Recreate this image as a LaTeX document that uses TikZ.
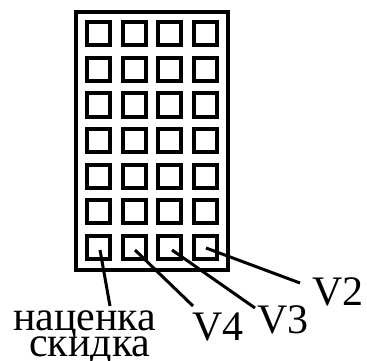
\documentclass[tikz,border=0pt]{standalone}
\usepackage{fontspec}
\setmainfont{Liberation Serif}
\begin{document}
\begin{tikzpicture}[x=1pt,y=-1pt,
  cell/.style={draw,line width=4pt,minimum size=23pt,inner sep=0pt},
  frame/.style={draw,line width=4pt},
  leader/.style={draw,line width=3pt},
  lbl/.style={inner sep=0pt,anchor=base west,font=\fontsize{42}{42}\selectfont}]
\useasboundingbox (0,0) rectangle (367,361);
\draw[frame] (76,12) rectangle (228,270);
\foreach \r in {1,...,7}{
  \foreach \c in {1,...,4}{
    \node[cell] (s\r\c) at ({98.5+35.5*(\c-1)},{34+35.5*(\r-1)}) {};
  }
}
\node[lbl] (nac) at (13,330) {наценка};
\node[lbl] (skid) at (29,356) {скидка};
\node[lbl] (v4) at (192,340) {V4};
\node[lbl] (v3) at (257,333) {V3};
\node[lbl] (v2) at (312,305) {V2};
\coordinate (a1) at (100,250);
\coordinate (a2) at (135,250);
\coordinate (a3) at (172,250);
\coordinate (a4) at (206,248);
\coordinate (b1) at (110,306);
\coordinate (b2) at (193,306);
\coordinate (b3) at (255,308);
\coordinate (b4) at (300,283);
\draw[leader] (a1) -- (b1);
\draw[leader] (a2) -- (b2);
\draw[leader] (a3) -- (b3);
\draw[leader] (a4) -- (b4);
\end{tikzpicture}
\end{document}
